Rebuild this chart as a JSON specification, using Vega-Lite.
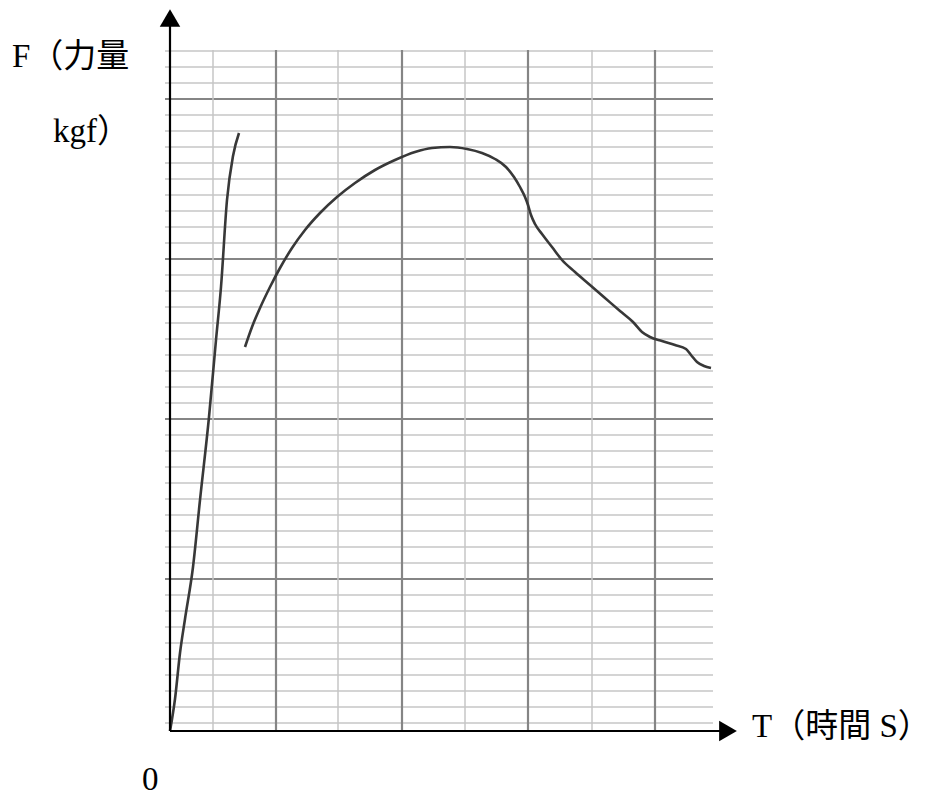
{
  "$schema": "https://vega.github.io/schema/vega-lite/v6.json",
  "width": 568,
  "height": 723,
  "autosize": {"type": "none"},
  "padding": {"left": 170, "top": 8, "right": 195, "bottom": 67},
  "background": "white",
  "config": {"view": {"stroke": null}},
  "datasets": {
    "hlines": [
      {"F": 680, "kind": "minor"}, {"F": 664, "kind": "minor"}, {"F": 648, "kind": "minor"}, {"F": 632, "kind": "major"},
      {"F": 616, "kind": "minor"}, {"F": 600, "kind": "minor"}, {"F": 584, "kind": "minor"}, {"F": 568, "kind": "minor"},
      {"F": 552, "kind": "minor"}, {"F": 536, "kind": "minor"}, {"F": 520, "kind": "minor"}, {"F": 504, "kind": "minor"},
      {"F": 488, "kind": "minor"}, {"F": 472, "kind": "major"}, {"F": 456, "kind": "minor"}, {"F": 440, "kind": "minor"},
      {"F": 424, "kind": "minor"}, {"F": 408, "kind": "minor"}, {"F": 392, "kind": "minor"}, {"F": 376, "kind": "minor"},
      {"F": 360, "kind": "minor"}, {"F": 344, "kind": "minor"}, {"F": 328, "kind": "minor"}, {"F": 312, "kind": "major"},
      {"F": 296, "kind": "minor"}, {"F": 280, "kind": "minor"}, {"F": 264, "kind": "minor"}, {"F": 248, "kind": "minor"},
      {"F": 232, "kind": "minor"}, {"F": 216, "kind": "minor"}, {"F": 200, "kind": "minor"}, {"F": 184, "kind": "minor"},
      {"F": 168, "kind": "minor"}, {"F": 152, "kind": "major"}, {"F": 136, "kind": "minor"}, {"F": 120, "kind": "minor"},
      {"F": 104, "kind": "minor"}, {"F": 88, "kind": "minor"}, {"F": 72, "kind": "minor"}, {"F": 56, "kind": "minor"},
      {"F": 40, "kind": "minor"}, {"F": 24, "kind": "minor"}, {"F": 8, "kind": "minor"}
    ],
    "vlines": [
      {"T": 43, "kind": "minor"}, {"T": 106, "kind": "major"}, {"T": 168, "kind": "minor"}, {"T": 232, "kind": "major"},
      {"T": 295, "kind": "minor"}, {"T": 358, "kind": "major"}, {"T": 422, "kind": "minor"}, {"T": 485, "kind": "major"}
    ],
    "curve": [
      {"seg": "elastic", "T": 0, "F": 0}, {"seg": "elastic", "T": 5, "F": 32}, {"seg": "elastic", "T": 10, "F": 78},
      {"seg": "elastic", "T": 15, "F": 112}, {"seg": "elastic", "T": 23, "F": 164}, {"seg": "elastic", "T": 30, "F": 231},
      {"seg": "elastic", "T": 39, "F": 314}, {"seg": "elastic", "T": 46, "F": 391}, {"seg": "elastic", "T": 51, "F": 444},
      {"seg": "elastic", "T": 57, "F": 531}, {"seg": "elastic", "T": 63, "F": 575}, {"seg": "elastic", "T": 69, "F": 598},
      {"seg": "plastic", "T": 75, "F": 384}, {"seg": "plastic", "T": 82, "F": 404}, {"seg": "plastic", "T": 90, "F": 423},
      {"seg": "plastic", "T": 100, "F": 444}, {"seg": "plastic", "T": 110, "F": 463}, {"seg": "plastic", "T": 122, "F": 483},
      {"seg": "plastic", "T": 135, "F": 501}, {"seg": "plastic", "T": 150, "F": 518}, {"seg": "plastic", "T": 167, "F": 534},
      {"seg": "plastic", "T": 185, "F": 548}, {"seg": "plastic", "T": 205, "F": 561}, {"seg": "plastic", "T": 225, "F": 571},
      {"seg": "plastic", "T": 245, "F": 579}, {"seg": "plastic", "T": 262, "F": 583}, {"seg": "plastic", "T": 280, "F": 584},
      {"seg": "plastic", "T": 297, "F": 582}, {"seg": "plastic", "T": 312, "F": 578}, {"seg": "plastic", "T": 325, "F": 572},
      {"seg": "plastic", "T": 336, "F": 564}, {"seg": "plastic", "T": 344, "F": 554}, {"seg": "plastic", "T": 350, "F": 544},
      {"seg": "plastic", "T": 355, "F": 534}, {"seg": "plastic", "T": 358, "F": 526}, {"seg": "plastic", "T": 361, "F": 516},
      {"seg": "plastic", "T": 365, "F": 507}, {"seg": "plastic", "T": 372, "F": 497}, {"seg": "plastic", "T": 382, "F": 484},
      {"seg": "plastic", "T": 392, "F": 471}, {"seg": "plastic", "T": 405, "F": 459}, {"seg": "plastic", "T": 420, "F": 446},
      {"seg": "plastic", "T": 435, "F": 433}, {"seg": "plastic", "T": 450, "F": 420}, {"seg": "plastic", "T": 463, "F": 409},
      {"seg": "plastic", "T": 472, "F": 399}, {"seg": "plastic", "T": 480, "F": 394}, {"seg": "plastic", "T": 492, "F": 390},
      {"seg": "plastic", "T": 505, "F": 386}, {"seg": "plastic", "T": 516, "F": 382}, {"seg": "plastic", "T": 521, "F": 376},
      {"seg": "plastic", "T": 527, "F": 369}, {"seg": "plastic", "T": 534, "F": 365}, {"seg": "plastic", "T": 541, "F": 363}
    ],
    "axes": [
      {"axis": "F", "T": 0, "T2": 0, "F": 0, "F2": 705},
      {"axis": "T", "T": 0, "T2": 550, "F": 0, "F2": 0}
    ],
    "arrows": [
      {"axis": "F", "T": 0, "F": 713, "dir": "up"},
      {"axis": "T", "T": 558, "F": 0, "dir": "right"}
    ],
    "labels": [
      {"label": "F（力量", "T": -158, "F": 664},
      {"label": "kgf）", "T": -117, "F": 589},
      {"label": "T（時間 S）", "T": 582, "F": -6},
      {"label": "0", "T": -28, "F": -59}
    ]
  },
  "layer": [
    {
      "data": {"name": "hlines"},
      "mark": {"type": "rule"},
      "encoding": {
        "y": {"field": "F", "type": "quantitative", "scale": {"domain": [0, 723], "nice": false, "zero": false}, "axis": null},
        "x": {"datum": -5, "type": "quantitative", "scale": {"domain": [0, 568], "nice": false, "zero": false}, "axis": null},
        "x2": {"datum": 543},
        "color": {"field": "kind", "type": "nominal", "scale": {"domain": ["major", "minor"], "range": ["#858585", "#c6c6c6"]}, "legend": null},
        "size": {"field": "kind", "type": "nominal", "scale": {"domain": ["major", "minor"], "range": [2.2, 1.5]}, "legend": null}
      }
    },
    {
      "data": {"name": "vlines"},
      "mark": {"type": "rule"},
      "encoding": {
        "x": {"field": "T", "type": "quantitative", "scale": {"domain": [0, 568], "nice": false, "zero": false}, "axis": null},
        "y": {"datum": 0, "type": "quantitative", "scale": {"domain": [0, 723], "nice": false, "zero": false}, "axis": null},
        "y2": {"datum": 681},
        "color": {"field": "kind", "type": "nominal", "scale": {"domain": ["major", "minor"], "range": ["#a4a4a4", "#dcdcdc"]}, "legend": null},
        "size": {"field": "kind", "type": "nominal", "scale": {"domain": ["major", "minor"], "range": [1.5, 1.2]}, "legend": null}
      }
    },
    {
      "data": {"name": "curve"},
      "mark": {"type": "line", "color": "#383838", "strokeWidth": 2.6, "interpolate": "monotone"},
      "encoding": {
        "x": {"field": "T", "type": "quantitative", "scale": {"domain": [0, 568], "nice": false, "zero": false}, "axis": null},
        "y": {"field": "F", "type": "quantitative", "scale": {"domain": [0, 723], "nice": false, "zero": false}, "axis": null},
        "detail": {"field": "seg", "type": "nominal"},
        "order": {"field": "T", "type": "quantitative"}
      }
    },
    {
      "data": {"name": "axes"},
      "mark": {"type": "rule", "color": "black", "strokeWidth": 2.2},
      "encoding": {
        "x": {"field": "T", "type": "quantitative", "scale": {"domain": [0, 568], "nice": false, "zero": false}, "axis": null},
        "x2": {"field": "T2"},
        "y": {"field": "F", "type": "quantitative", "scale": {"domain": [0, 723], "nice": false, "zero": false}, "axis": null},
        "y2": {"field": "F2"}
      }
    },
    {
      "data": {"name": "arrows"},
      "mark": {"type": "point", "filled": true, "color": "black", "opacity": 1, "size": 420},
      "encoding": {
        "x": {"field": "T", "type": "quantitative", "scale": {"domain": [0, 568], "nice": false, "zero": false}, "axis": null},
        "y": {"field": "F", "type": "quantitative", "scale": {"domain": [0, 723], "nice": false, "zero": false}, "axis": null},
        "shape": {"field": "dir", "type": "nominal", "scale": {"domain": ["up", "right"], "range": ["triangle-up", "triangle-right"]}, "legend": null}
      }
    },
    {
      "data": {"name": "labels"},
      "mark": {"type": "text", "align": "left", "baseline": "alphabetic", "font": "Liberation Serif, Noto Sans CJK TC", "fontSize": 33, "color": "black"},
      "encoding": {
        "x": {"field": "T", "type": "quantitative", "scale": {"domain": [0, 568], "nice": false, "zero": false}, "axis": null},
        "y": {"field": "F", "type": "quantitative", "scale": {"domain": [0, 723], "nice": false, "zero": false}, "axis": null},
        "text": {"field": "label", "type": "nominal"}
      }
    }
  ]
}
